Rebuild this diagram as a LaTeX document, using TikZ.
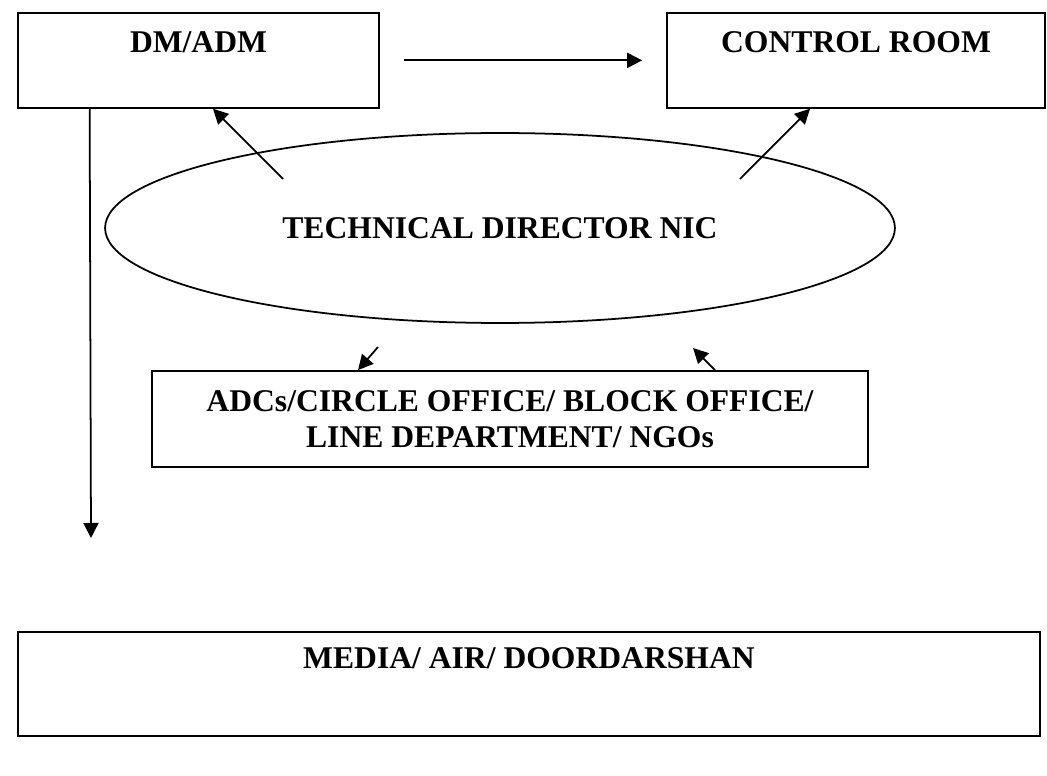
\documentclass[tikz,border=0pt]{standalone}
\usepackage{fontspec}
\setmainfont{Liberation Serif}
\usepackage{tikz}
\usetikzlibrary{arrows.meta,shapes.geometric}
\tikzset{
  BaseNode/.style = {inner sep=0pt, line width=1pt, font=\bfseries\fontsize{18}{20.5}\selectfont},
  TopBox/.style = {BaseNode, rectangle, draw=black, text height=0.8cm, text depth=1.1cm},
  MidBox/.style = {BaseNode, rectangle, draw=black, align=center, minimum height=1.92cm},
  HubNode/.style = {BaseNode, ellipse, draw=black, minimum width=15.8cm, minimum height=3.8cm},
  LinkLine/.style = {->, line width=1pt},
}

\begin{document}
\begin{tikzpicture}[x=0.02cm, y=-0.02cm, >={Triangle[length=0.3cm, width=0.3cm]}]
    \useasboundingbox (0,0) rectangle (1047,776);
    \node [TopBox, minimum width=7.22cm, anchor=north] (dm) at (198.5,12) {DM/ADM};
    \node [TopBox, minimum width=7.56cm, anchor=north] (cr) at (856,12) {CONTROL ROOM};
    \node [HubNode] (nic) at (500,228) {TECHNICAL DIRECTOR NIC};
    \node [MidBox, minimum width=14.32cm] (adc) at (510,419) {ADCs/CIRCLE OFFICE/ BLOCK OFFICE/\\LINE DEPARTMENT/ NGOs};
    \node [TopBox, minimum width=20.44cm, text height=0.74cm, text depth=1.34cm, anchor=north] (media) at (529,631) {MEDIA/ AIR/ DOORDARSHAN};

    \coordinate (nicL) at (283,179);
    \coordinate (nicR) at (740,179);
    \coordinate (adcL) at (378,347);
    \coordinate (adcR) at (693,348);
    \coordinate (drop) at (91,538);

    \draw [LinkLine, shorten <=0.48cm, shorten >=0.48cm] (dm) -- (cr);
    \draw [LinkLine] (nicL) -- ([xshift=0.29cm]dm.south);
    \draw [LinkLine] (nicR) -- ([xshift=-0.92cm]cr.south);
    \draw [LinkLine] (adcL) -- ([xshift=-3.04cm]adc.north);
    \draw [LinkLine] ([xshift=4.1cm]adc.north) -- (adcR);
    \draw [LinkLine] ([xshift=1.45cm]dm.south west) -- (drop);
\end{tikzpicture}
\end{document}
